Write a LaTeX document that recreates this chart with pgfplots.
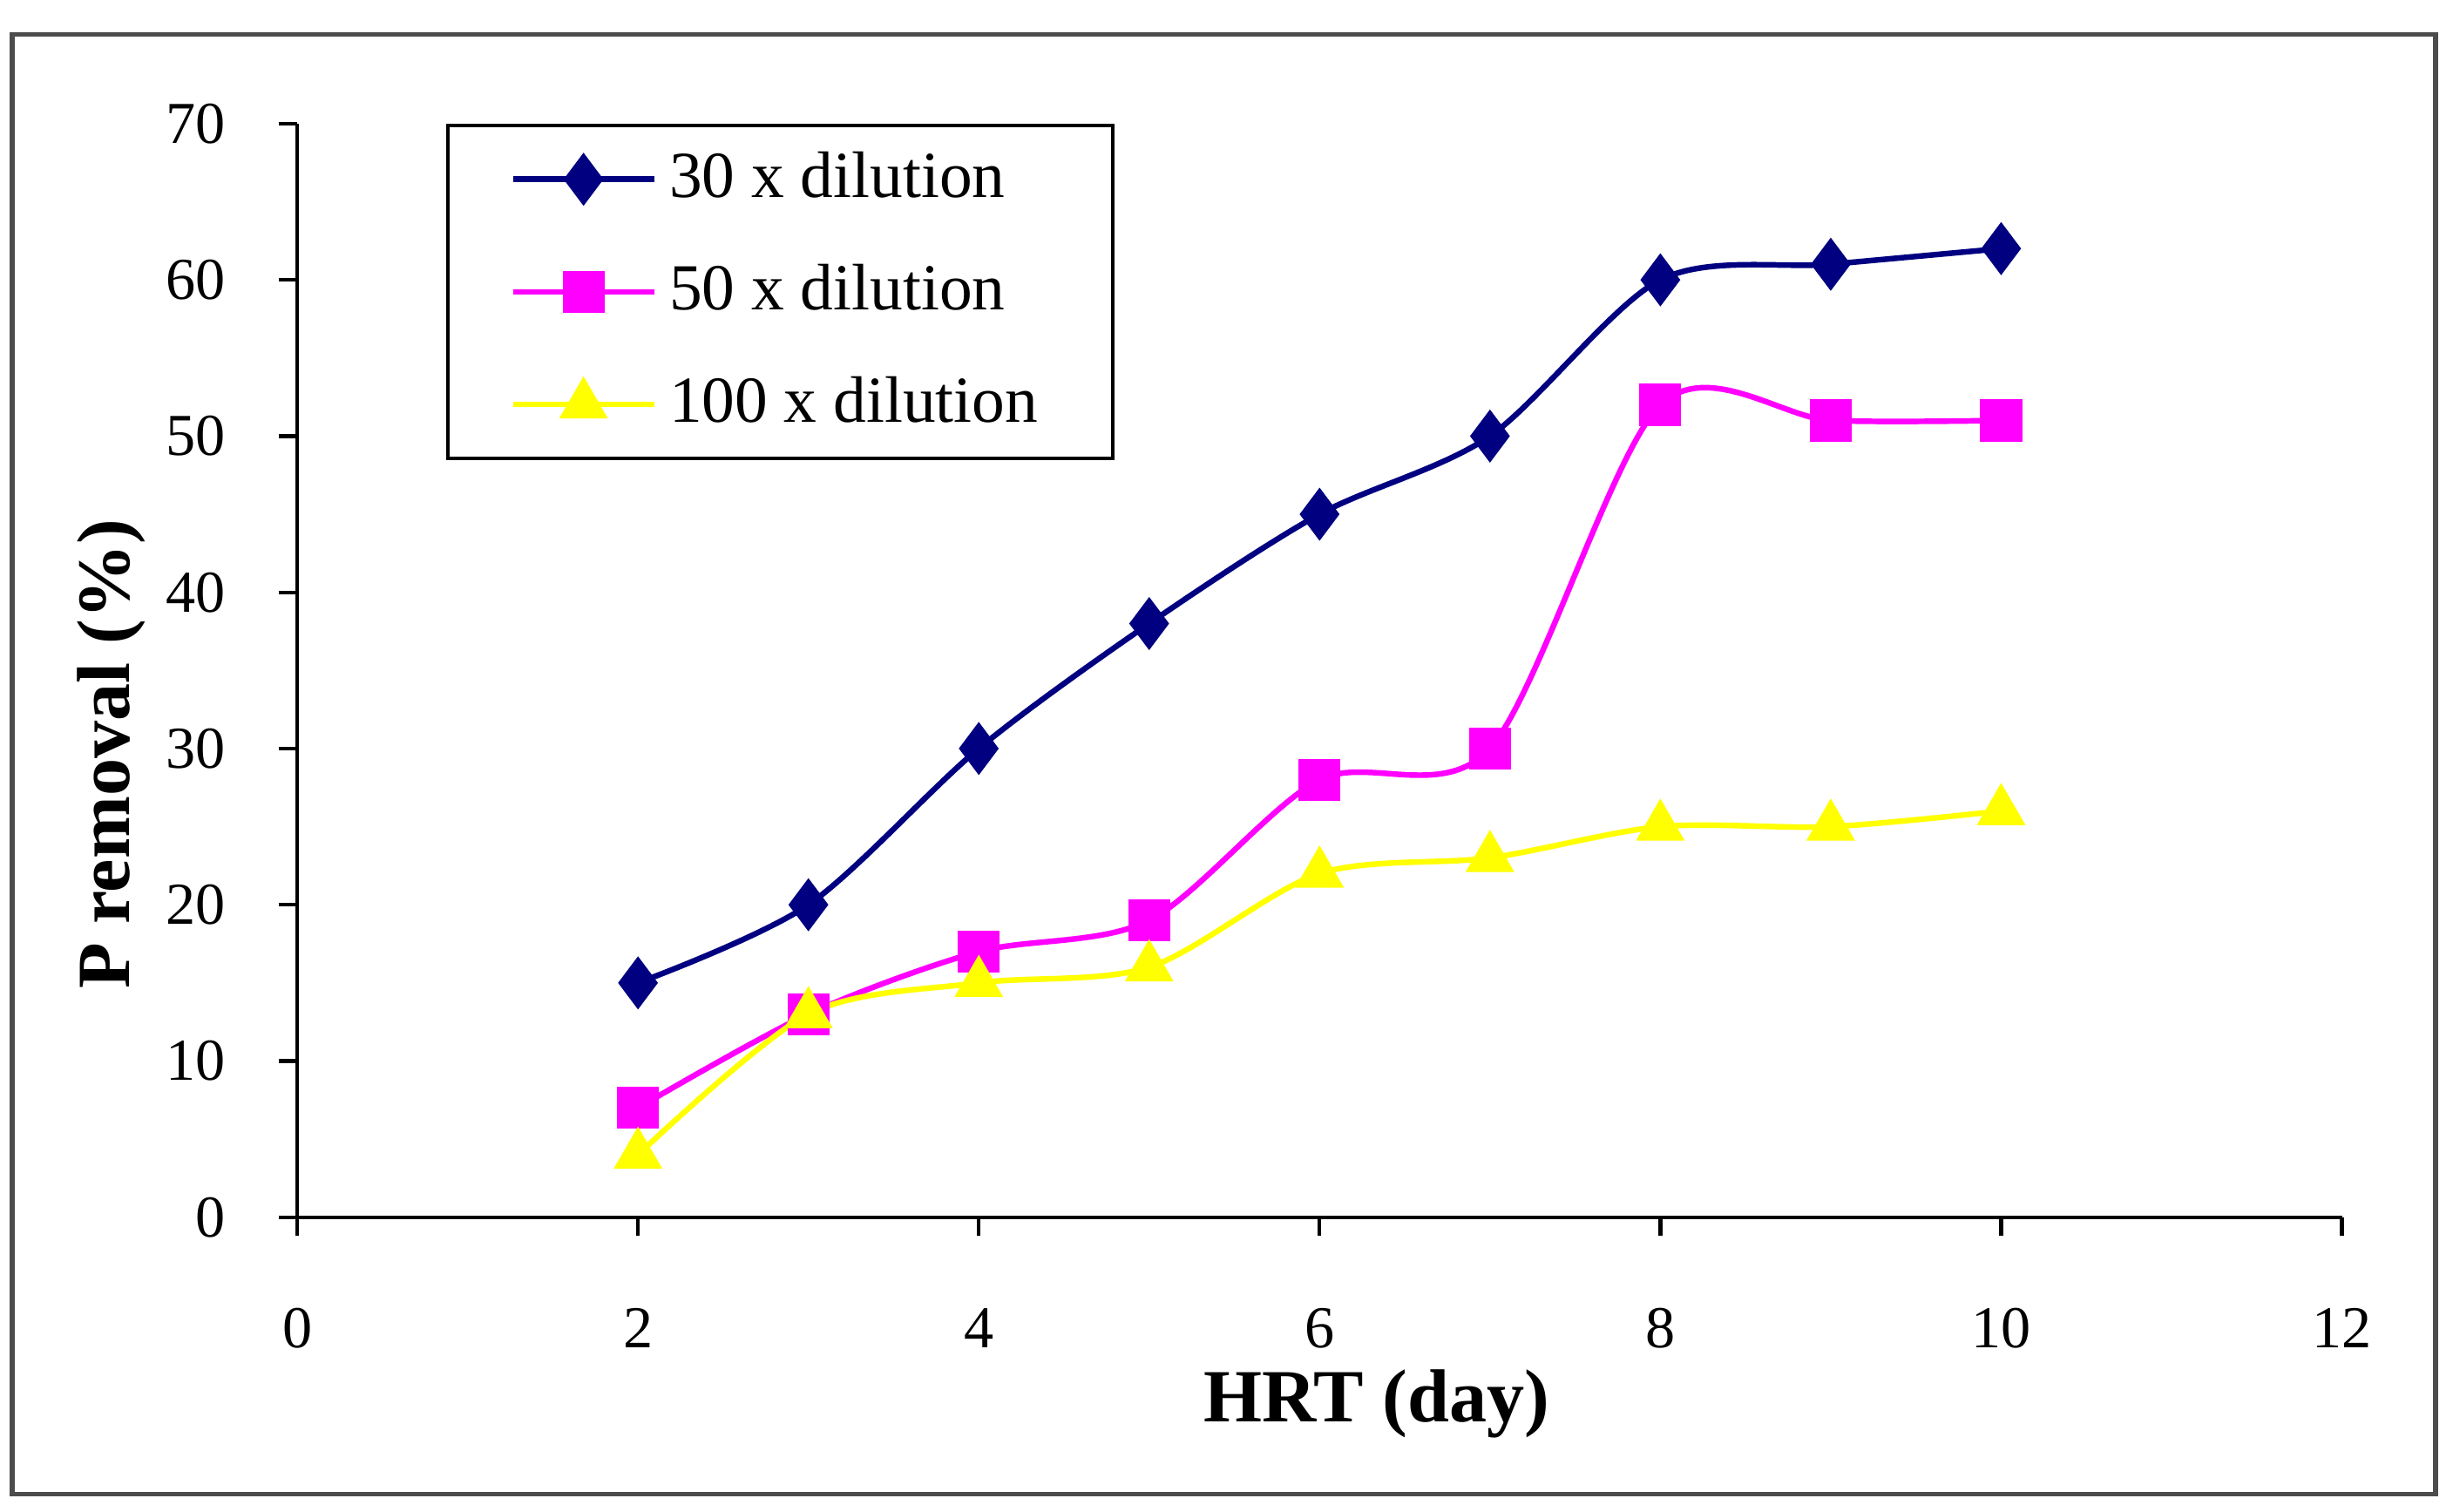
\documentclass[border=0pt]{standalone}
\usepackage{pgfplots}
\pgfplotsset{compat=1.18}
\usepackage{fontspec}
\setmainfont{Liberation Serif}
\definecolor{navy}{RGB}{0,0,128}
\definecolor{mag}{RGB}{255,0,255}
\definecolor{yel}{RGB}{255,255,0}
\begin{document}
\begin{tikzpicture}
\useasboundingbox (-47.5pt,-47pt) rectangle (344.5pt,194.5pt);
\draw[line width=0.8pt, black!70] (-45.5pt,-44.25pt) rectangle (341.75pt,189pt);
\begin{axis}[
 at={(0,0)}, anchor=south west, scale only axis,
 width=326.75pt, height=174.75pt,
 xmin=0, xmax=12, ymin=0, ymax=70,
 axis x line=bottom, axis y line=left,
 axis line style={-, line width=0.6pt},
 xtick={0,2,...,12}, ytick={0,10,...,70},
 tick align=outside, major tick length=3pt,
 tick style={line width=0.6pt, black},
 ticklabel style={font=\fontsize{9.5}{11}\selectfont},
 /pgf/number format/assume math mode=true,
 xticklabel style={yshift=-8pt},
 yticklabel style={xshift=-5pt},
 xlabel={HRT (day)}, ylabel={P removal (\%)},
 xlabel style={font=\bfseries\fontsize{12}{14}\selectfont, at={(axis description cs:0.528,-0.171)}, anchor=center},
 ylabel style={font=\bfseries\fontsize{12}{14}\selectfont, at={(axis description cs:-0.091,0.4235)}, anchor=center},
 legend style={at={(axis description cs:0.0727,1)}, anchor=north west, draw=black, line width=0.6pt,
   font=\fontsize{10.5}{12}\selectfont, row sep=5.2pt, inner xsep=10pt, inner ysep=2.2pt, cells={anchor=west}},
 legend image code/.code={\draw[mark repeat=2, mark phase=2] plot coordinates {(0pt,0pt) (11.25pt,0pt) (22.5pt,0pt)};},
]
\addplot[navy, line width=0.9pt, smooth, mark=diamond*, mark size=3.5pt, mark options={fill=navy, draw=navy}]
 coordinates {(2,15) (3,20) (4,30) (5,38) (6,45) (7,50) (8,60) (9,61) (10,62)};
\addlegendentry{30 x dilution}
\addplot[mag, line width=0.9pt, smooth, mark=square*, mark size=2.9pt, mark options={fill=mag, draw=mag}]
 coordinates {(2,7) (3,13) (4,17) (5,19) (6,28) (7,30) (8,52) (9,51) (10,51)};
\addlegendentry{50 x dilution}
\addplot[yel, line width=0.9pt, smooth, mark=triangle*, mark size=3.6pt, mark options={fill=yel, draw=yel}]
 coordinates {(2,4) (3,13) (4,15) (5,16) (6,22) (7,23) (8,25) (9,25) (10,26)};
\addlegendentry{100 x dilution}
\end{axis}
\end{tikzpicture}
\end{document}
